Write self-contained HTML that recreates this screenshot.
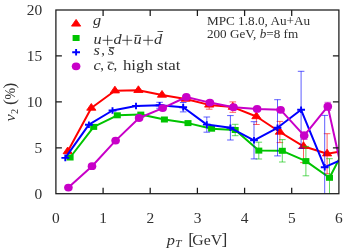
<!DOCTYPE html>
<html><head><meta charset="utf-8"><title>v2 vs pT</title>
<style>
html,body{margin:0;padding:0;background:#fff;}
svg{display:block;will-change:transform;}
text{font-family:"Liberation Serif",serif;fill:#303030;}
.tk{font-size:14.5px;}
.lg{font-size:15px;}
.sm{font-size:12.2px;}
i,.it{font-style:italic;}
</style></head><body>
<svg width="346" height="249" viewBox="0 0 346 249">
<rect width="346" height="249" fill="#fff"/>
<defs><clipPath id="cp"><rect x="55.9" y="10.0" width="283.0" height="183.7"/></clipPath></defs>
<g clip-path="url(#cp)">
<path d="M209.2 100.6V109.2M205.9 100.6h6.6M205.9 109.2h6.6" stroke="#ff0000" stroke-width="0.9" fill="none" opacity="0.7"/>
<path d="M232.8 101.9V112.3M229.5 101.9h6.6M229.5 112.3h6.6" stroke="#ff0000" stroke-width="0.9" fill="none" opacity="0.7"/>
<path d="M256.4 108.5V124.5M253.1 108.5h6.6M253.1 124.5h6.6" stroke="#ff0000" stroke-width="0.9" fill="none" opacity="0.7"/>
<path d="M279.9 121.4V142.6M276.6 121.4h6.6M276.6 142.6h6.6" stroke="#ff0000" stroke-width="0.9" fill="none" opacity="0.7"/>
<path d="M303.5 132.7V162.6M300.2 132.7h6.6M300.2 162.6h6.6" stroke="#ff0000" stroke-width="0.9" fill="none" opacity="0.7"/>
<path d="M327.1 133.7V173.7M323.8 133.7h6.6M323.8 173.7h6.6" stroke="#ff0000" stroke-width="0.9" fill="none" opacity="0.7"/>
<polyline points="67.7,151.5 91.3,108.0 114.9,90.7 138.4,90.3 162.0,95.0 185.6,99.0 209.2,104.9 232.8,107.1 256.4,116.5 279.9,132.0 303.5,146.3 327.1,153.7 350.7,150.0" fill="none" stroke="#ff0000" stroke-width="2.0" stroke-linejoin="round"/>
<path d="M67.7 147.0l-4.6 6.7h9.2z" fill="#ff0000" stroke="#ff0000" stroke-width="0.9" stroke-linejoin="round"/>
<path d="M91.3 103.5l-4.6 6.7h9.2z" fill="#ff0000" stroke="#ff0000" stroke-width="0.9" stroke-linejoin="round"/>
<path d="M114.9 86.2l-4.6 6.7h9.2z" fill="#ff0000" stroke="#ff0000" stroke-width="0.9" stroke-linejoin="round"/>
<path d="M138.4 85.8l-4.6 6.7h9.2z" fill="#ff0000" stroke="#ff0000" stroke-width="0.9" stroke-linejoin="round"/>
<path d="M162.0 90.5l-4.6 6.7h9.2z" fill="#ff0000" stroke="#ff0000" stroke-width="0.9" stroke-linejoin="round"/>
<path d="M185.6 94.5l-4.6 6.7h9.2z" fill="#ff0000" stroke="#ff0000" stroke-width="0.9" stroke-linejoin="round"/>
<path d="M209.2 100.4l-4.6 6.7h9.2z" fill="#ff0000" stroke="#ff0000" stroke-width="0.9" stroke-linejoin="round"/>
<path d="M232.8 102.6l-4.6 6.7h9.2z" fill="#ff0000" stroke="#ff0000" stroke-width="0.9" stroke-linejoin="round"/>
<path d="M256.4 112.0l-4.6 6.7h9.2z" fill="#ff0000" stroke="#ff0000" stroke-width="0.9" stroke-linejoin="round"/>
<path d="M279.9 127.5l-4.6 6.7h9.2z" fill="#ff0000" stroke="#ff0000" stroke-width="0.9" stroke-linejoin="round"/>
<path d="M303.5 141.8l-4.6 6.7h9.2z" fill="#ff0000" stroke="#ff0000" stroke-width="0.9" stroke-linejoin="round"/>
<path d="M327.1 149.2l-4.6 6.7h9.2z" fill="#ff0000" stroke="#ff0000" stroke-width="0.9" stroke-linejoin="round"/>
<path d="M235.2 124.3V135.7M231.9 124.3h6.6M231.9 135.7h6.6" stroke="#00c400" stroke-width="0.9" fill="none" opacity="0.7"/>
<path d="M258.8 142.2V159.0M255.5 142.2h6.6M255.5 159.0h6.6" stroke="#00c400" stroke-width="0.9" fill="none" opacity="0.7"/>
<path d="M282.3 139.6V162.0M279.0 139.6h6.6M279.0 162.0h6.6" stroke="#00c400" stroke-width="0.9" fill="none" opacity="0.7"/>
<path d="M305.9 146.4V175.8M302.6 146.4h6.6M302.6 175.8h6.6" stroke="#00c400" stroke-width="0.9" fill="none" opacity="0.7"/>
<path d="M329.5 158.7V196.9M326.2 158.7h6.6M326.2 196.9h6.6" stroke="#00c400" stroke-width="0.9" fill="none" opacity="0.7"/>
<polyline points="70.1,157.5 93.7,126.9 117.3,115.3 140.8,114.6 164.4,119.5 188.0,123.1 211.6,128.7 235.2,130.0 258.8,150.6 282.3,150.8 305.9,161.1 329.5,177.8 353.1,131.9" fill="none" stroke="#00c400" stroke-width="2.0" stroke-linejoin="round"/>
<rect x="66.6" y="154.5" width="7" height="6" fill="#00c400"/>
<rect x="90.2" y="123.9" width="7" height="6" fill="#00c400"/>
<rect x="113.8" y="112.3" width="7" height="6" fill="#00c400"/>
<rect x="137.3" y="111.6" width="7" height="6" fill="#00c400"/>
<rect x="160.9" y="116.5" width="7" height="6" fill="#00c400"/>
<rect x="184.5" y="120.1" width="7" height="6" fill="#00c400"/>
<rect x="208.1" y="125.7" width="7" height="6" fill="#00c400"/>
<rect x="231.7" y="127.0" width="7" height="6" fill="#00c400"/>
<rect x="255.3" y="147.6" width="7" height="6" fill="#00c400"/>
<rect x="278.8" y="147.8" width="7" height="6" fill="#00c400"/>
<rect x="302.4" y="158.1" width="7" height="6" fill="#00c400"/>
<rect x="326.0" y="174.8" width="7" height="6" fill="#00c400"/>
<path d="M159.6 102.3V108.3M156.3 102.3h6.6M156.3 108.3h6.6" stroke="#0000ff" stroke-width="0.9" fill="none" opacity="0.7"/>
<path d="M183.2 102.5V111.9M179.9 102.5h6.6M179.9 111.9h6.6" stroke="#0000ff" stroke-width="0.9" fill="none" opacity="0.7"/>
<path d="M206.8 117.0V132.2M203.5 117.0h6.6M203.5 132.2h6.6" stroke="#0000ff" stroke-width="0.9" fill="none" opacity="0.7"/>
<path d="M230.4 115.6V140.0M227.1 115.6h6.6M227.1 140.0h6.6" stroke="#0000ff" stroke-width="0.9" fill="none" opacity="0.7"/>
<path d="M254.0 121.7V158.9M250.7 121.7h6.6M250.7 158.9h6.6" stroke="#0000ff" stroke-width="0.9" fill="none" opacity="0.7"/>
<path d="M277.5 99.7V155.9M274.2 99.7h6.6M274.2 155.9h6.6" stroke="#0000ff" stroke-width="0.9" fill="none" opacity="0.7"/>
<path d="M301.1 71.3V148.3M297.8 71.3h6.6M297.8 148.3h6.6" stroke="#0000ff" stroke-width="0.9" fill="none" opacity="0.7"/>
<path d="M324.7 115.4V219.0M321.4 115.4h6.6M321.4 219.0h6.6" stroke="#0000ff" stroke-width="0.9" fill="none" opacity="0.7"/>
<polyline points="65.3,157.9 88.9,124.7 112.5,110.5 136.0,106.0 159.6,105.3 183.2,107.2 206.8,124.6 230.4,127.8 254.0,140.3 277.5,127.8 301.1,109.8 324.7,167.2 348.3,156.7" fill="none" stroke="#0000ff" stroke-width="2.0" stroke-linejoin="round"/>
<path d="M61.4 157.9h7.8M65.3 154.6v6.6" stroke="#0000ff" stroke-width="1.9" fill="none"/>
<path d="M85.0 124.7h7.8M88.9 121.4v6.6" stroke="#0000ff" stroke-width="1.9" fill="none"/>
<path d="M108.6 110.5h7.8M112.5 107.2v6.6" stroke="#0000ff" stroke-width="1.9" fill="none"/>
<path d="M132.1 106.0h7.8M136.0 102.7v6.6" stroke="#0000ff" stroke-width="1.9" fill="none"/>
<path d="M155.7 105.3h7.8M159.6 102.0v6.6" stroke="#0000ff" stroke-width="1.9" fill="none"/>
<path d="M179.3 107.2h7.8M183.2 103.9v6.6" stroke="#0000ff" stroke-width="1.9" fill="none"/>
<path d="M202.9 124.6h7.8M206.8 121.3v6.6" stroke="#0000ff" stroke-width="1.9" fill="none"/>
<path d="M226.5 127.8h7.8M230.4 124.5v6.6" stroke="#0000ff" stroke-width="1.9" fill="none"/>
<path d="M250.1 140.3h7.8M254.0 137.0v6.6" stroke="#0000ff" stroke-width="1.9" fill="none"/>
<path d="M273.6 127.8h7.8M277.5 124.5v6.6" stroke="#0000ff" stroke-width="1.9" fill="none"/>
<path d="M297.2 109.8h7.8M301.1 106.5v6.6" stroke="#0000ff" stroke-width="1.9" fill="none"/>
<path d="M320.8 167.2h7.8M324.7 163.9v6.6" stroke="#0000ff" stroke-width="1.9" fill="none"/>
<path d="M304.2 131.7V139.5M300.9 131.7h6.6M300.9 139.5h6.6" stroke="#c800c8" stroke-width="0.9" fill="none" opacity="0.7"/>
<path d="M327.8 102.3V110.5M324.5 102.3h6.6M324.5 110.5h6.6" stroke="#c800c8" stroke-width="0.9" fill="none" opacity="0.7"/>
<polyline points="68.4,187.6 92.0,166.2 115.6,140.6 139.1,118.0 162.7,108.1 186.3,97.0 209.9,102.6 233.5,107.2 257.1,108.9 280.6,109.8 304.2,135.6 327.8,106.4 351.4,213.6" fill="none" stroke="#c800c8" stroke-width="2.0" stroke-linejoin="round"/>
<ellipse cx="68.4" cy="187.6" rx="4.3" ry="3.9" fill="#c800c8"/>
<ellipse cx="92.0" cy="166.2" rx="4.3" ry="3.9" fill="#c800c8"/>
<ellipse cx="115.6" cy="140.6" rx="4.3" ry="3.9" fill="#c800c8"/>
<ellipse cx="139.1" cy="118.0" rx="4.3" ry="3.9" fill="#c800c8"/>
<ellipse cx="162.7" cy="108.1" rx="4.3" ry="3.9" fill="#c800c8"/>
<ellipse cx="186.3" cy="97.0" rx="4.3" ry="3.9" fill="#c800c8"/>
<ellipse cx="209.9" cy="102.6" rx="4.3" ry="3.9" fill="#c800c8"/>
<ellipse cx="233.5" cy="107.2" rx="4.3" ry="3.9" fill="#c800c8"/>
<ellipse cx="257.1" cy="108.9" rx="4.3" ry="3.9" fill="#c800c8"/>
<ellipse cx="280.6" cy="109.8" rx="4.3" ry="3.9" fill="#c800c8"/>
<ellipse cx="304.2" cy="135.6" rx="4.3" ry="3.9" fill="#c800c8"/>
<ellipse cx="327.8" cy="106.4" rx="4.3" ry="3.9" fill="#c800c8"/>
</g>
<rect x="55.9" y="10.0" width="283.0" height="183.7" fill="none" stroke="#1a1a1a" stroke-width="1.25"/>
<path d="M103.1 193.7v-6M103.1 10.0v6M150.2 193.7v-6M150.2 10.0v6M197.4 193.7v-6M197.4 10.0v6M244.6 193.7v-6M244.6 10.0v6M291.7 193.7v-6M291.7 10.0v6M55.9 147.8h6M338.9 147.8h-6M55.9 101.8h6M338.9 101.8h-6M55.9 55.9h6M338.9 55.9h-6" stroke="#1a1a1a" stroke-width="1.25" fill="none"/>
<path d="M76.1 19.4l-4.6 6.7h9.2z" fill="#ff0000" stroke="#ff0000" stroke-width="0.9" stroke-linejoin="round"/>
<rect x="72.6" y="35.0" width="7" height="6" fill="#00c400"/>
<path d="M72.2 52.2h7.8M76.1 48.9v6.6" stroke="#0000ff" stroke-width="1.9" fill="none"/>
<ellipse cx="76.1" cy="66.3" rx="4.3" ry="3.9" fill="#c800c8"/>
<text x="34.5" y="198.5" class="tk" textLength="7.7" lengthAdjust="spacingAndGlyphs">0</text>
<text x="34.5" y="152.6" class="tk" textLength="7.7" lengthAdjust="spacingAndGlyphs">5</text>
<text x="26.8" y="106.6" class="tk" textLength="15.4" lengthAdjust="spacingAndGlyphs">10</text>
<text x="26.8" y="60.7" class="tk" textLength="15.4" lengthAdjust="spacingAndGlyphs">15</text>
<text x="26.8" y="14.8" class="tk" textLength="15.4" lengthAdjust="spacingAndGlyphs">20</text>
<text x="52.1" y="222.5" class="tk" textLength="7.7" lengthAdjust="spacingAndGlyphs">0</text>
<text x="99.3" y="222.5" class="tk" textLength="7.7" lengthAdjust="spacingAndGlyphs">1</text>
<text x="146.5" y="222.5" class="tk" textLength="7.7" lengthAdjust="spacingAndGlyphs">2</text>
<text x="193.7" y="222.5" class="tk" textLength="7.7" lengthAdjust="spacingAndGlyphs">3</text>
<text x="240.8" y="222.5" class="tk" textLength="7.7" lengthAdjust="spacingAndGlyphs">4</text>
<text x="288.0" y="222.5" class="tk" textLength="7.7" lengthAdjust="spacingAndGlyphs">5</text>
<text x="335.1" y="222.5" class="tk" textLength="7.7" lengthAdjust="spacingAndGlyphs">6</text>
<text transform="translate(93.0,25.2) scale(1.2,1)" font-size="13.6" font-style="italic">g</text>
<text transform="translate(93.6,43.5) scale(1.2,1)" font-size="13.6" font-style="italic">u</text>
<path d="M102.6 40.3h10.0M107.6 35.3v10.0" stroke="#222" stroke-width="0.8" fill="none"/>
<text transform="translate(113.4,43.5) scale(1.2,1)" font-size="13.6" font-style="italic">d</text>
<path d="M122.2 40.3h10.0M127.2 35.3v10.0" stroke="#222" stroke-width="0.8" fill="none"/>
<text transform="translate(133.5,43.5) scale(1.2,1)" font-size="13.6" font-style="italic">u</text>
<path d="M143.1 40.3h10.0M148.1 35.3v10.0" stroke="#222" stroke-width="0.8" fill="none"/>
<text transform="translate(154.0,43.5) scale(1.2,1)" font-size="13.6" font-style="italic">d</text>
<path d="M134.8 35.4H140.6" stroke="#222" stroke-width="0.8" fill="none"/>
<path d="M157.5 31.5H163.1" stroke="#222" stroke-width="0.8" fill="none"/>
<text transform="translate(93.6,55) scale(1.2,1)" font-size="13.6" font-style="italic">s</text>
<text transform="translate(101.2,55) scale(1.0,1)" font-size="14.5" >,</text>
<text transform="translate(107.9,55) scale(1.2,1)" font-size="13.6" font-style="italic">s</text>
<path d="M108.8 47.5H114.4" stroke="#222" stroke-width="0.8" fill="none"/>
<text transform="translate(93.6,70) scale(1.2,1)" font-size="13.6" font-style="italic">c</text>
<text transform="translate(100.2,70) scale(1.0,1)" font-size="14.5" >,</text>
<text transform="translate(107.2,70) scale(1.2,1)" font-size="13.6" font-style="italic">c</text>
<path d="M107.5 62.2H112.7" stroke="#222" stroke-width="0.8" fill="none"/>
<text transform="translate(113.6,70) scale(1.0,1)" font-size="14.5" >,</text>
<text x="122.9" y="70" font-size="14.5" textLength="57.6" lengthAdjust="spacingAndGlyphs">high stat</text>
<text x="206.9" y="24.7" class="sm" textLength="103.3" lengthAdjust="spacingAndGlyphs">MPC 1.8.0, Au+Au</text>
<text x="206.9" y="38.1" class="sm" textLength="91.3" lengthAdjust="spacingAndGlyphs">200 GeV, <tspan class="it">b</tspan>=8 fm</text>
<text transform="translate(166.8,244.8) scale(1.2,1)" font-size="13.6" font-style="italic">p</text>
<text transform="translate(175.0,246.6) scale(1.2,1)" font-size="9.8" font-style="italic">T</text>
<text transform="translate(188.2,244.6) scale(1.0,1)" font-size="17.5" >[</text>
<text x="192.3" y="244.9" font-size="14.5" textLength="29.8" lengthAdjust="spacingAndGlyphs">GeV</text>
<text transform="translate(221.6,244.6) scale(1.0,1)" font-size="17.5" >]</text>
<g transform="translate(15.3,121.6) rotate(-90)"><text transform="translate(0,0) scale(1.2,1)" font-size="13.6" font-style="italic">v</text><text transform="translate(7.6,2.2) scale(1.0,1)" font-size="10.2" >2</text><text transform="translate(16.6,0) scale(1.0,1)" font-size="17.5" >(</text><text transform="translate(22.0,0) scale(1.0,1)" font-size="14" >%</text><text transform="translate(33.2,0) scale(1.0,1)" font-size="17.5" >)</text></g>
</svg>
</body></html>
